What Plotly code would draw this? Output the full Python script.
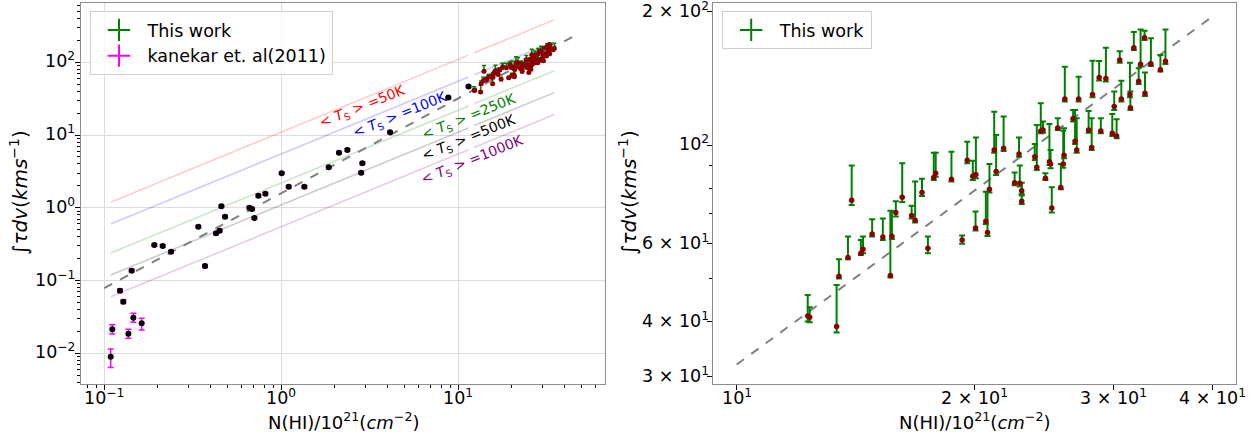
import plotly.graph_objects as go
import numpy as np

# ---------------- data: This work ----------------
nhi_tw = [12.30, 12.37, 13.38, 13.47, 13.83, 13.98, 14.36, 14.45, 14.84, 15.31,
          15.65, 15.72, 15.90, 16.20, 16.65, 16.82, 17.16, 17.46, 17.76, 17.86,
          18.70, 19.29, 19.58, 19.90, 20.08, 20.06, 20.67, 20.77, 20.89, 21.18,
          21.30, 21.77, 22.48, 22.77, 22.82, 22.95, 22.95, 23.84, 23.98, 24.26,
          24.42, 24.59, 24.88, 24.96, 25.05, 25.49, 25.72, 25.90, 25.96, 26.02,
          26.66, 26.81, 26.94, 27.09, 27.89, 28.14, 28.21, 28.76, 28.90, 29.33,
          29.88, 30.05, 30.26, 30.54, 30.68, 31.46, 31.50, 31.82, 32.27, 32.45,
          32.83, 32.87, 33.44, 34.38, 34.89]
tau_tw = [41.18, 40.89, 38.96, 50.62, 55.77, 75.1, 57.05, 58.25, 63.07, 62.11,
          50.79, 62.32, 70.47, 76.3, 69.38, 67.72, 78.19, 58.56, 84.53, 86.46,
          83.8, 61.14, 92.5, 85.11, 85.86, 65.07, 67.36, 63.51, 79.55, 97.61,
          87.22, 98.45, 82.36, 95.6, 82.08, 79.0, 74.73, 94.27, 89.2, 107.7,
          108.3, 84.24, 91.86, 90.77, 72.18, 109.4, 80.26, 90.77, 94.93, 127.2,
          114.9, 102.1, 97.61, 127.2, 108.3, 98.8, 130.3, 142.2, 107.7, 141.5,
          106.4, 122.3, 105.0, 155.8, 127.2, 130.3, 121.6, 166.1, 139.5, 152.4,
          175.0, 131.0, 152.9, 148.2, 154.8]
tau_tw_err_up = [4.76, 2.19, 9.43, 4.67, 6.44, 14.9, 4.09, 3.96, 5.0, 6.2,
                 20.4, 8.64, 4.26, 14.8, 3.69, 15.07, 5.9, 3.65, 11.72, 9.79,
                 12.96, 1.4, 9.4, 7.23, 18.34, 5.77, 11.23, 15.08, 11.22, 21.5,
                 18.28, 17.65, 4.4, 8.6, 7.9, 3.36, 2.25, 6.43, 22.0, 16.7,
                 4.8, 2.22, 19.84, 6.84, 8.22, 5.7, 10.51, 17.13, 14.27, 23.3,
                 5.3, 18.1, 17.49, 15.7, 11.2, 16.3, 25.0, 12.9, 7.4, 24.6,
                 11.3, 9.9, 9.5, 7.2, 12.6, 23.4, 10.6, 14.2, 9.7, 30.3,
                 6.5, 15.1, 21.5, 11.7, 27.9]
tau_tw_err_lo = [1.19, 1.04, 1.20, 0.6, 0.48, 1.8, 0.5, 1.2, 0.86, 0.97,
                 0.5, 0.86, 1.45, 1.8, 1.07, 0.81, 1.35, 1.51, 1.03, 1.49,
                 1.01, 1.24, 1.4, 1.61, 1.62, 0.89, 0.91, 1.08, 1.36, 1.36,
                 1.52, 1.35, 1.12, 1.33, 1.4, 1.36, 1.0, 1.61, 1.22, 1.3,
                 1.5, 0.74, 1.57, 2.02, 1.71, 1.1, 0.71, 1.73, 1.47, 1.7,
                 1.8, 1.4, 1.36, 1.7, 1.5, 1.19, 2.0, 2.2, 1.3, 2.2,
                 1.4, 2.1, 1.3, 2.1, 1.7, 2.0, 1.4, 2.0, 1.9, 1.9,
                 2.1, 1.8, 1.8, 1.5, 2.1]

# ---------------- data: Kanekar et al. (2011) ----------------
nhi_k = [0.1088, 0.1111, 0.1228, 0.1282, 0.1369, 0.1429, 0.1461, 0.1628, 0.1919, 0.214,
         0.2384, 0.340, 0.371, 0.428, 0.449, 0.459, 0.4815, 0.661, 0.684, 0.705,
         0.743, 0.814, 1.006, 1.102, 1.351, 1.856, 2.121, 2.364, 2.83, 2.874,
         4.12, 8.79, 11.43]
tau_k = [0.00899, 0.0214, 0.0726, 0.0513, 0.0186, 0.1368, 0.0309, 0.0258, 0.308, 0.2985,
         0.249, 0.5506, 0.158, 0.4457, 0.4853, 1.047, 0.755, 1.004, 0.964, 0.724,
         1.468, 1.564, 2.98, 1.95, 1.95, 3.60, 5.73, 6.23, 3.04, 4.09,
         10.9, 32.7, 46.3]
tau_k_err_up = [0.0025, 0.0033, 0.004, 0.003, 0.0028, 0.006, 0.0046, 0.0045, 0.012, 0.012,
                0.01, 0.02, 0.008, 0.018, 0.02, 0.04, 0.03, 0.04, 0.04, 0.03,
                0.06, 0.06, 0.1, 0.08, 0.08, 0.14, 0.2, 0.25, 0.12, 0.16,
                0.4, 1.2, 1.8]
tau_k_err_lo = [0.0026, 0.0030, 0.004, 0.003, 0.0025, 0.006, 0.0042, 0.0049, 0.012, 0.012,
                0.01, 0.02, 0.008, 0.018, 0.02, 0.04, 0.03, 0.04, 0.04, 0.03,
                0.06, 0.06, 0.1, 0.08, 0.08, 0.14, 0.2, 0.25, 0.12, 0.16,
                0.4, 1.2, 1.8]

# ---------------- spin temperature lines ----------------
ts_values = [50, 100, 250, 500, 1000]
ts_names = ["50K", "100K", "250K", "500K", "1000K"]
ts_colors = ["red", "blue", "green", "black", "purple"]
ts_line_rgba = ["rgba(255,0,0,0.2)", "rgba(0,0,255,0.2)", "rgba(0,128,0,0.2)",
                "rgba(0,0,0,0.2)", "rgba(128,0,128,0.2)"]
ts_label_x = [2.86, 4.69, 11.5, 11.5, 12.1]
ts_label_y = [24.3, 18.9, 17.7, 9.1, 4.54]
conv_const = 1.823  # N(HI) = 1.823e18 * Ts * int(tau dv)

# ---------------- fit line ----------------
fit_slope = 1.305
fit_logy_at_10 = 1.505
fit_x_left = [0.1, 48.0]
fit_x_right = [10.0, 40.0]

# ---------------- ticks ----------------
left_xticks = [0.1, 1, 10]
left_xticktext = ["10<sup>−1</sup>", "10<sup>0</sup>", "10<sup>1</sup>"]
left_yticks = [0.01, 0.1, 1, 10, 100]
left_yticktext = ["10<sup>−2</sup>", "10<sup>−1</sup>", "10<sup>0</sup>", "10<sup>1</sup>", "10<sup>2</sup>"]
right_xticks = [10, 20, 30, 40]
right_xticktext = ["10<sup>1</sup>", "2 × 10<sup>1</sup>", "3 × 10<sup>1</sup>", "4 × 10<sup>1</sup>"]
right_yticks = [30, 40, 60, 100, 200]
right_yticktext = ["3 × 10<sup>1</sup>", "4 × 10<sup>1</sup>", "6 × 10<sup>1</sup>", "10<sup>2</sup>", "2 × 10<sup>2</sup>"]


def fit_line(xs):
    xs = np.array(xs)
    return 10 ** (fit_logy_at_10 + fit_slope * (np.log10(xs) - 1))


def minor_vals(lo_exp, hi_exp):
    out = []
    for e in range(lo_exp, hi_exp + 1):
        for m in range(2, 10):
            out.append(m * 10.0 ** e)
    return out


W, H = 1259, 436
FONT = "DejaVu Sans"
TICKFONT = dict(family=FONT, size=17.5, color="black")
fig = go.Figure()

# Ts lines (two segments: Kanekar range and This-work range)
seg_k = [min(nhi_k), max(nhi_k)]
seg_t = [min(nhi_tw), max(nhi_tw)]
for ts, col in zip(ts_values, ts_line_rgba):
    xs = [seg_k[0], seg_k[1], None, seg_t[0], seg_t[1]]
    ys = [x * 1e3 / (conv_const * ts) if x is not None else None for x in xs]
    fig.add_trace(go.Scatter(x=xs, y=ys, mode="lines", line=dict(color=col, width=1.6),
                             showlegend=False, hoverinfo="skip", xaxis="x", yaxis="y"))

# fit line left
fig.add_trace(go.Scatter(x=fit_x_left, y=fit_line(fit_x_left), mode="lines",
                         line=dict(color="gray", width=2, dash="dash"),
                         showlegend=False, xaxis="x", yaxis="y"))

# This work left
fig.add_trace(go.Scatter(x=nhi_tw, y=tau_tw, mode="markers",
                         marker=dict(color="darkred", size=5),
                         error_y=dict(type="data", symmetric=False, array=tau_tw_err_up,
                                      arrayminus=tau_tw_err_lo, color="green", thickness=1.5, width=2),
                         showlegend=False, xaxis="x", yaxis="y"))
# Kanekar left
fig.add_trace(go.Scatter(x=nhi_k, y=tau_k, mode="markers",
                         marker=dict(color="black", size=6),
                         error_y=dict(type="data", symmetric=False, array=tau_k_err_up,
                                      arrayminus=tau_k_err_lo, color="magenta", thickness=1.5, width=3),
                         showlegend=False, xaxis="x", yaxis="y"))

# legend proxies (left)
fig.add_trace(go.Scatter(x=[None], y=[None], mode="markers", name="This work",
                         marker=dict(symbol="cross-thin", size=16, line=dict(color="green", width=2)),
                         xaxis="x", yaxis="y", legend="legend"))
fig.add_trace(go.Scatter(x=[None], y=[None], mode="markers", name="kanekar et. al(2011)",
                         marker=dict(symbol="cross-thin", size=16, line=dict(color="magenta", width=2)),
                         xaxis="x", yaxis="y", legend="legend"))

# right panel
fig.add_trace(go.Scatter(x=fit_x_right, y=fit_line(fit_x_right), mode="lines",
                         line=dict(color="gray", width=2, dash="dash"),
                         showlegend=False, xaxis="x2", yaxis="y2"))
fig.add_trace(go.Scatter(x=nhi_tw, y=tau_tw, mode="markers",
                         marker=dict(color="darkred", size=5.5),
                         error_y=dict(type="data", symmetric=False, array=tau_tw_err_up,
                                      arrayminus=tau_tw_err_lo, color="green", thickness=2, width=3),
                         showlegend=False, xaxis="x2", yaxis="y2"))
fig.add_trace(go.Scatter(x=[None], y=[None], mode="markers", name="This work",
                         marker=dict(symbol="cross-thin", size=16, line=dict(color="green", width=2)),
                         xaxis="x2", yaxis="y2", legend="legend2"))

# Ts annotations
annotations = []
for name, col, lx, ly in zip(ts_names, ts_colors, ts_label_x, ts_label_y):
    annotations.append(dict(x=np.log10(lx), y=np.log10(ly), xref="x", yref="y",
                            text="&lt; <i>T</i><sub>S</sub> &gt; =" + name, showarrow=False,
                            textangle=-22, font=dict(family=FONT, size=14, color=col)))

# tick labels placed as annotations (matplotlib-like positions)
XT_Y = 1 - 397 / H
for v, t in zip(left_xticks, left_xticktext):
    annotations.append(dict(x=np.log10(v), y=XT_Y, xref="x", yref="paper", text=t, showarrow=False,
                            xanchor="center", yanchor="middle", font=TICKFONT))
for v, t in zip(right_xticks, right_xticktext):
    annotations.append(dict(x=np.log10(v), y=XT_Y, xref="x2", yref="paper", text=t, showarrow=False,
                            xanchor="center", yanchor="middle", font=TICKFONT))
for v, t in zip(left_yticks, left_yticktext):
    annotations.append(dict(x=77 / W, y=np.log10(v), xref="paper", yref="y", text=t, showarrow=False,
                            xanchor="right", yanchor="middle", yshift=2, font=TICKFONT))
for v, t in zip(right_yticks, right_yticktext):
    annotations.append(dict(x=711 / W, y=np.log10(v), xref="paper", yref="y2", text=t, showarrow=False,
                            xanchor="right", yanchor="middle", yshift=2, font=TICKFONT))

title_font = dict(family=FONT, size=18, color="black")
xt = "N(HI)/10<sup>21</sup>(<i>cm</i><sup>−2</sup>)"
yt = "∫<i>τdv</i>(<i>kms</i><sup>−1</sup>)"
annotations += [
    dict(x=343 / W, y=1 - 421 / H, xref="paper", yref="paper", text=xt, showarrow=False,
         font=title_font, xanchor="center", yanchor="middle"),
    dict(x=975 / W, y=1 - 421 / H, xref="paper", yref="paper", text=xt, showarrow=False,
         font=title_font, xanchor="center", yanchor="middle"),
    dict(x=19 / W, y=1 - 193 / H, xref="paper", yref="paper", text=yt, showarrow=False,
         font=dict(family=FONT, size=20, color="black"), textangle=-90, xanchor="center", yanchor="middle"),
    dict(x=628 / W, y=1 - 193 / H, xref="paper", yref="paper", text=yt, showarrow=False,
         font=dict(family=FONT, size=20, color="black"), textangle=-90, xanchor="center", yanchor="middle"),
]

ydom = [1 - 384 / H, 1 - 2.7 / H]
axis_common = dict(type="log", showline=True, linecolor="#8c8c8c", linewidth=1, mirror=True,
                   ticks="outside", ticklen=5, tickcolor="black", tickwidth=1, showticklabels=False,
                   showgrid=True, gridcolor="#dcdcdc", gridwidth=1, zeroline=False, automargin=False)
minor_style = dict(ticks="outside", ticklen=3, tickcolor="black", showgrid=False)

fig.update_layout(
    width=W, height=H, margin=dict(l=0, r=0, t=0, b=0),
    paper_bgcolor="white", plot_bgcolor="white",
    font=dict(family=FONT),
    xaxis=dict(domain=[81.2 / W, 604.8 / W], range=[-1.130, 1.828], tickvals=left_xticks,
               minor=dict(tickvals=minor_vals(-2, 1), **minor_style), anchor="y", **axis_common),
    yaxis=dict(domain=ydom, range=[-2.422, 2.819], tickvals=left_yticks,
               minor=dict(tickvals=minor_vals(-3, 2), **minor_style), anchor="x", **axis_common),
    xaxis2=dict(domain=[713 / W, 1236 / W], range=[0.970, 1.632], tickvals=right_xticks,
                minor=dict(tickvals=minor_vals(0, 1), **minor_style), anchor="y2",
                **{**axis_common, "showgrid": False}),
    yaxis2=dict(domain=ydom, range=[1.461, 2.322], tickvals=right_yticks,
                minor=dict(tickvals=minor_vals(1, 2), **minor_style), anchor="x2",
                **{**axis_common, "showgrid": False}),
    legend=dict(x=89.5 / W, y=1 - 11 / H, xanchor="left", yanchor="top", itemwidth=47,
                bgcolor="rgba(255,255,255,0.8)", bordercolor="#d0d0d0", borderwidth=1,
                font=dict(family=FONT, size=17.5, color="black")),
    legend2=dict(x=721.7 / W, y=1 - 11 / H, xanchor="left", yanchor="top", itemwidth=47,
                 bgcolor="rgba(255,255,255,0.8)", bordercolor="#d0d0d0", borderwidth=1,
                 font=dict(family=FONT, size=17.5, color="black")),
    annotations=annotations,
    shapes=[
        dict(type="line", xref="x2", yref="paper", x0=1, x1=1, y0=ydom[0], y1=ydom[1],
             line=dict(color="#dcdcdc", width=1), layer="below"),
        dict(type="line", xref="paper", yref="y2", x0=713 / W, x1=1236 / W, y0=2, y1=2,
             line=dict(color="#dcdcdc", width=1), layer="below"),
    ],
)

fig.write_html("out.html")
